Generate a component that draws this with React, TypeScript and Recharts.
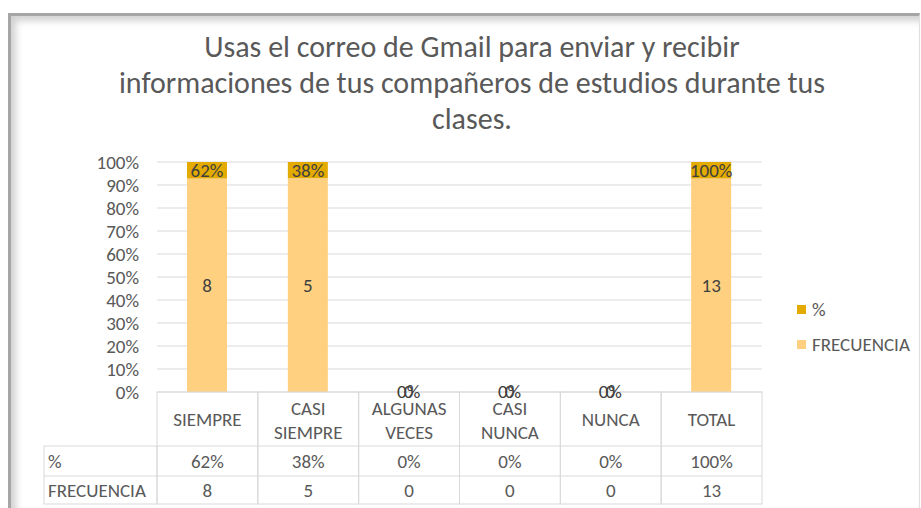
import React from "react";
import { BarChart, Bar, XAxis, YAxis, CartesianGrid, LabelList } from "recharts";

const categories = ["SIEMPRE", "CASI SIEMPRE", "ALGUNAS VECES", "CASI NUNCA", "NUNCA", "TOTAL"];
const pctValues = [0.62, 0.38, 0, 0, 0, 1];
const freqValues = [8, 5, 0, 0, 0, 13];
const yTicks = [0, 0.1, 0.2, 0.3, 0.4, 0.5, 0.6, 0.7, 0.8, 0.9, 1];
const rowLabels = ["%", "FRECUENCIA"];

const data = categories.map((name, i) => ({ name, freq: freqValues[i], pct: pctValues[i] }));

const W = 921;
const H = 508;
const margin = { top: 162, right: 159, left: 77, bottom: 0 };
const yAxisW = 80;
const plotW = W - margin.left - yAxisW - margin.right;
const band = plotW / categories.length;

const FONT = "Carlito, 'Open Sans', sans-serif";
const FS = 19;
const TEXT = "#595959";
const LINE = "#d9d9d9";
const DARK = "#e3aa00";
const LIGHT = "#ffd07f";

const fmtPct = (v: any) => `${Math.round(Number(v) * 100)}%`;

function TableTick(props: any) {
  const { x, y, payload } = props;
  const i = payload.index;
  const left = x - band / 2;
  const words: string[] = payload.value.includes(" ") ? payload.value.split(" ") : [payload.value];
  const r1 = y + 54;
  const r2 = y + 84;
  const r3 = y + 112;
  return (
    <g fontFamily={FONT} fontSize={FS} fill={TEXT}>
      <rect x={left} y={y} width={band} height={r3 - y} fill="none" stroke={LINE} />
      <line x1={left} x2={left + band} y1={r1} y2={r1} stroke={LINE} />
      <line x1={left} x2={left + band} y1={r2} y2={r2} stroke={LINE} />
      {words.length === 1 ? (
        <text x={x} y={y + 27} textAnchor="middle" dominantBaseline="central">{words[0]}</text>
      ) : (
        words.map((w, k) => (
          <text key={k} x={x} y={y + 16 + k * 24} textAnchor="middle" dominantBaseline="central">{w}</text>
        ))
      )}
      <text x={x} y={r1 + 15} textAnchor="middle" dominantBaseline="central">{fmtPct(pctValues[i])}</text>
      <text x={x} y={r2 + 14} textAnchor="middle" dominantBaseline="central">{freqValues[i]}</text>
      {i === 0 && (
        <g>
          <rect x={left - 113} y={r1} width={113} height={r3 - r1} fill="none" stroke={LINE} />
          <line x1={left - 113} x2={left} y1={r2} y2={r2} stroke={LINE} />
          <text x={left - 109} y={r1 + 15} dominantBaseline="central">{rowLabels[0]}</text>
          <text x={left - 109} y={r2 + 14} dominantBaseline="central">{rowLabels[1]}</text>
        </g>
      )}
    </g>
  );
}

function makeLabel(fmt: (v: any) => string) {
  return (p: any) => {
    const cx = Number(p.x) + Number(p.width) / 2;
    const cy = Number(p.y) + Number(p.height) / 2;
    return (
      <text x={cx} y={cy} textAnchor="middle" dominantBaseline="central" fill="#404040" fontSize={FS} fontFamily={FONT}>
        {fmt(p.value)}
      </text>
    );
  };
}

function LegendBox() {
  const items = [
    { label: "%", color: DARK },
    { label: "FRECUENCIA", color: LIGHT },
  ];
  return (
    <div style={{ position: "absolute", left: 797, top: 292, fontFamily: FONT, fontSize: FS, color: TEXT }}>
      {items.map((it) => (
        <div key={it.label} style={{ display: "flex", alignItems: "center", height: 35 }}>
          <span style={{ width: 9, height: 9, background: it.color, marginRight: 6, display: "inline-block" }} />
          {it.label}
        </div>
      ))}
    </div>
  );
}

export default function App() {
  return (
    <div style={{ position: "absolute", left: 0, top: 0, width: W, height: H, background: "#fff", overflow: "hidden" }}>
      <div
        style={{
          position: "absolute",
          left: 8,
          top: 13,
          width: 908,
          height: 492,
          borderLeft: "3px solid #a6a6a6",
          borderTop: "3px solid #a6a6a6",
          borderRight: "1px solid #e0e0e0",
          borderBottom: "2px solid #e8e8e8",
          boxShadow: "inset 5px 5px 7px rgba(0,0,0,0.18)",
        }}
      />
      <div
        style={{
          position: "absolute",
          left: 22,
          top: 29,
          width: 900,
          textAlign: "center",
          fontFamily: FONT,
          fontSize: 30,
          lineHeight: "36px",
          color: TEXT,
        }}
      >
        Usas el correo de Gmail para enviar y recibir
        <br />
        informaciones de tus compañeros de estudios durante tus
        <br />
        clases.
      </div>
      <div style={{ position: "absolute", left: 0, top: 0 }}>
        <BarChart width={W} height={H} data={data} margin={margin} stackOffset="expand" barSize={40}>
          <CartesianGrid vertical={false} stroke={LINE} />
          <YAxis
            width={yAxisW}
            domain={[0, 1]}
            ticks={yTicks}
            interval={0}
            tickFormatter={fmtPct}
            axisLine={false}
            tickLine={false}
            tickSize={0}
            tickMargin={18}
            tick={{ fill: TEXT, fontSize: FS, fontFamily: FONT }}
          />
          <XAxis
            dataKey="name"
            height={116}
            axisLine={false}
            tickLine={false}
            tickSize={0}
            tickMargin={0}
            interval={0}
            tick={<TableTick />}
          />
          <Bar dataKey="freq" name="FRECUENCIA" stackId="a" fill={LIGHT} minPointSize={0.01} isAnimationActive={false}>
            <LabelList dataKey="freq" content={makeLabel((v) => String(v))} />
          </Bar>
          <Bar dataKey="pct" name="%" stackId="a" fill={DARK} minPointSize={0.01} isAnimationActive={false}>
            <LabelList dataKey="pct" content={makeLabel(fmtPct)} />
          </Bar>
        </BarChart>
      </div>
      <LegendBox />
    </div>
  );
}
